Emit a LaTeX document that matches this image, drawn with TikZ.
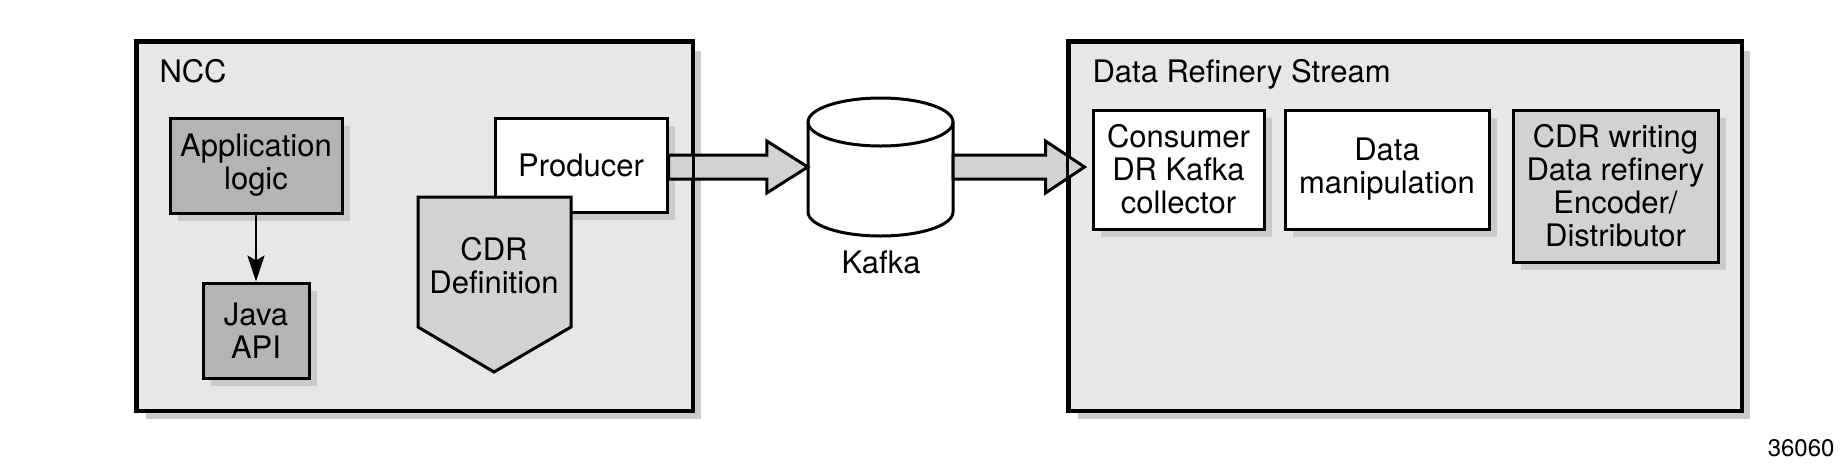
\documentclass[tikz,border=0pt]{standalone}
\usepackage{fontspec}
\setmainfont{TeX Gyre Heros}
\usetikzlibrary{shadows,calc,arrows.meta}
\definecolor{boxgray}{HTML}{E6E7E8}
\definecolor{appgray}{HTML}{B4B4B5}
\definecolor{midgray}{HTML}{D1D2D3}
\definecolor{shadowgray}{HTML}{C9CACB}
\begin{document}
\begin{tikzpicture}[x=1pt,y=-1pt,
font=\fontsize{31}{33}\selectfont,
outerbox/.style={rectangle, draw=black, line width=3pt, fill=boxgray, inner sep=0pt,
  drop shadow={shadow xshift=9pt, shadow yshift=-9pt, fill=shadowgray, opacity=1}},
innerbox/.style={rectangle, draw=black, line width=3pt, align=center, inner sep=0pt,
  drop shadow={shadow xshift=8pt, shadow yshift=-8pt, fill=shadowgray, opacity=1}},
fatarrow/.style={draw=black, line width=3pt, fill=midgray, line join=miter},
thinarrow/.style={line width=2.5pt, -{Stealth[length=26pt, width=17pt, inset=5pt]}},
]
\useasboundingbox (0,0) rectangle (1848,467);
%Nodes
\node[outerbox, minimum width=555, minimum height=368] at (414.5,226) (ncc) {};
\node[outerbox, minimum width=672, minimum height=368] at (1405,226) (drs) {};
\node[anchor=base west] at (156,82) (ncctitle) {NCC};
\node[anchor=base west] at (1089,82) (drstitle) {Data Refinery Stream};
\node[innerbox, fill=appgray, minimum width=172, minimum height=95] at (256,165.5) (applogic) {Application\\logic};
\node[innerbox, fill=appgray, minimum width=106, minimum height=95] at (256,330.5) (javaapi) {Java\\API};
\node[innerbox, fill=white, minimum width=172, minimum height=94] at (581,165) (producer) {Producer};
\draw[draw=black, line width=3pt, fill=midgray, line join=miter] (418,197) -- (571,197) -- (571,327) -- (494,372) -- (418,327) -- cycle;
\node[align=center] at (494,266) (cdrdef) {CDR\\Definition};
\node[innerbox, fill=white, minimum width=171, minimum height=119] at (1178.5,169.5) (consumer) {Consumer\\DR Kafka\\collector};
\node[innerbox, fill=white, minimum width=204, minimum height=119] at (1387,169.5) (manip) {Data\\manipulation};
\node[innerbox, fill=midgray, minimum width=205, minimum height=152] at (1615.5,186) (cdrwriting) {CDR writing\\Data refinery\\Encoder/\\Distributor};
%Kafka
\node[minimum width=145, minimum height=138, inner sep=0pt] at (880.5,167) (kafka) {};
\draw[line width=3pt, fill=white] (808,122) -- (808,212) arc[start angle=180, end angle=360, x radius=72.5pt, y radius=24pt] -- (953,122) arc[start angle=0, end angle=180, x radius=72.5pt, y radius=24pt] -- cycle;
\draw[line width=3pt] (808,122) arc[start angle=180, end angle=360, x radius=72.5pt, y radius=24pt];
\node[anchor=base] at (881,273) (kafkalabel) {Kafka};
\node[anchor=base east, font=\fontsize{24}{26}\selectfont] at (1838,456) (fignum) {36060};
%Lines
\draw[thinarrow] (applogic) -- (javaapi);
\draw[fatarrow] ($(producer.east |- kafka.west)+(0,-12)$) -- ($(kafka.west)+(-41,-12)$) -- ++(0,-14) -- (kafka.west) -- ++(-41,26) -- ++(0,-14) -- ($(producer.east |- kafka.west)+(0,12)$) -- cycle;
\draw[fatarrow] ($(kafka.east)+(0,-12)$) -- ($(consumer.west |- kafka.east)+(-46,-12)$) -- ++(0,-14) -- ($(consumer.west |- kafka.east)+(-7,0)$) -- ++(-39,26) -- ++(0,-14) -- ($(kafka.east)+(0,12)$) -- cycle;
\draw[line width=3pt] (ncc.north west) rectangle (ncc.south east);
\draw[line width=3pt] (drs.north west) rectangle (drs.south east);
\end{tikzpicture}
\end{document}
